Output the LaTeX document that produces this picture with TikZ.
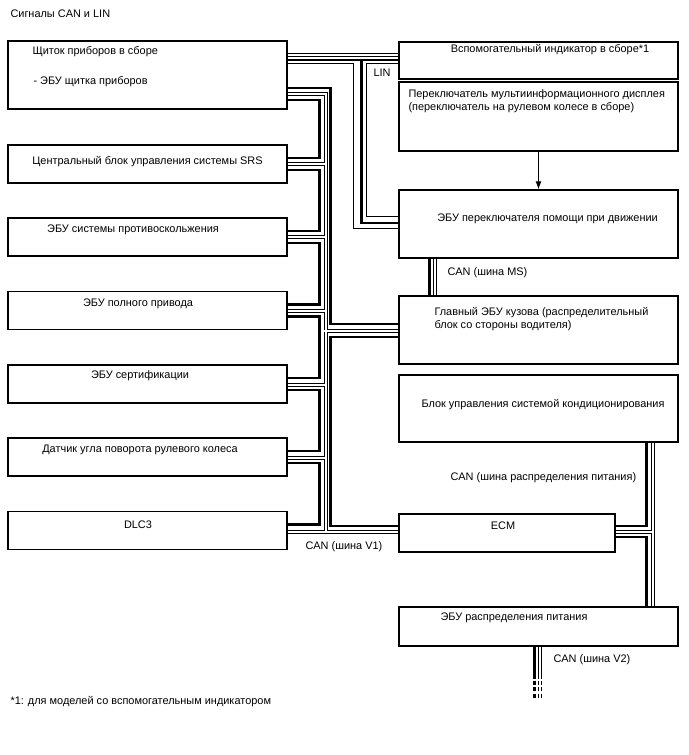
\documentclass[tikz,border=0pt]{standalone}
\usepackage{fontspec}
\setmainfont{Liberation Sans}
\usetikzlibrary{calc,arrows.meta}

\tikzset{every picture/.style={line width=0.75pt}}
\tikzset{
  every node/.style={font=\fontsize{8.2}{9.75}\selectfont, inner sep=0pt},
  ecubox/.style={draw, line width=0.9pt, minimum width=209.25pt},
  canwire/.style={line width=2.2pt},
  linwire/.style={line width=0.75pt},
}

\begin{document}
\begin{tikzpicture}[x=0.75pt,y=0.75pt,yscale=-1,xscale=1]
\useasboundingbox (0,0) rectangle (688,755);

%Boxes, left column
\draw (147.5,75) node [ecubox, minimum height=51pt] (cluster) {};
\draw (147.5,164) node [ecubox, minimum height=28.5pt] (srs) {};
\draw (147.5,237) node [ecubox, minimum height=28.5pt] (abs) {};
\draw (147.5,310.5) node [ecubox, minimum height=28.5pt] (awd) {};
\draw (147.5,384) node [ecubox, minimum height=28.5pt] (cert) {};
\draw (147.5,457) node [ecubox, minimum height=28.5pt] (steer) {};
\draw (147.5,530.5) node [ecubox, minimum height=28.5pt] (dlc) {};
%Boxes, right column
\draw (538.5,60.5) node [ecubox, minimum height=27.75pt] (aux) {};
\draw (538.5,116.5) node [ecubox, minimum height=51.75pt] (mid) {};
\draw (538.5,224) node [ecubox, minimum height=51pt] (dsa) {};
\draw (538.5,330) node [ecubox, minimum height=51pt] (body) {};
\draw (538.5,408.5) node [ecubox, minimum height=50.25pt] (ac) {};
\draw (507,533) node [ecubox, minimum height=28.5pt, minimum width=162pt] (ecm) {};
\draw (538.5,626.5) node [ecubox, minimum height=29.25pt] (pd) {};

%Arrow switch -> ECU
\draw [-{Latex[length=6pt,width=4.5pt]}] (mid.south) -- (dsa.north);

%LIN
\draw [canwire] ($(cluster.east)+(0,-15)$) -- ($(aux.west)+(0,-0.5)$);
\draw [canwire] ($(aux.west)+(-37,-0.5)$) |- ($(dsa.west)+(0,-1)$);
\draw [linwire] ($(cluster.east)+(0,-11)$) -| ($(dsa.west)+(-45,5)$) -- ($(dsa.west)+(0,5)$);
\draw [linwire] ($(aux.west)+(0,3.5)$) -| ($(dsa.west)+(-32,-7)$) -- ($(dsa.west)+(0,-7)$);

%CAN V1, thick wire
\draw [canwire] ($(cluster.east)+(0,25)$) -- ++(32,0) |- ($(srs.east)+(0,-6)$);
\draw [canwire] ($(srs.east)+(0,6)$) -- ++(32,0) |- ($(abs.east)+(0,-6)$);
\draw [canwire] ($(abs.east)+(0,6)$) -- ++(32,0) |- ($(awd.east)+(0,-6)$);
\draw [canwire] ($(awd.east)+(0,6)$) -- ++(32,0) |- ($(cert.east)+(0,-6)$);
\draw [canwire] ($(cert.east)+(0,6)$) -- ++(32,0) |- ($(steer.east)+(0,-6)$);
\draw [canwire] ($(steer.east)+(0,6)$) -- ++(32,0) |- ($(dlc.east)+(0,-6)$);
\draw [canwire] ($(cluster.east)+(0,13)$) -| ($(body.west)+(-68,-6)$) -- ($(body.west)+(0,-6)$);
\draw [canwire] ($(body.west)+(0,7)$) -| ($(ecm.west)+(-68,-7)$) -- ($(ecm.west)+(0,-7)$);
%CAN MS, thick wire
\draw [canwire] ($(dsa.south west)+(31,0)$) -- ($(body.north west)+(31,0)$);
%CAN power distribution, thick wire
\draw [canwire] ($(ac.south east)+(-32,0)$) |- ($(ecm.east)+(0,-7)$);
\draw [canwire] ($(ecm.east)+(0,4)$) -| ($(pd.north east)+(-32,0)$);
%CAN V2, thick wire
\draw [canwire] ($(pd.south west)+(136,0)$) -- ++(0,32);
\draw [canwire, dash pattern=on 3pt off 2pt] ($(pd.south west)+(136,34)$) -- ++(0,17);

%hollow wires (black pass, then white pass)
\foreach \col/\wd in {black/3pt, white/1.5pt}{
  \draw [\col, line width=\wd] ($(cluster.east)+(0,-19.5)$) -- ($(aux.west)+(0,-5)$);
  \draw [\col, line width=\wd] ($(cluster.east)+(0,19)$) -| ($(dlc.east)+(38,1.5)$);
  \draw [\col, line width=\wd] ($(dlc.east)+(0,1.5)$) -- ($(ecm.west)+(0,-1)$);
  \draw [\col, line width=\wd] ($(srs.east)+(0,0.5)$) -- ++(38,0);
  \draw [\col, line width=\wd] ($(abs.east)+(0,0.5)$) -- ++(38,0);
  \draw [\col, line width=\wd] ($(awd.east)+(0,0.5)$) -- ++(38,0);
  \draw [\col, line width=\wd] ($(cert.east)+(0,0.5)$) -- ++(38,0);
  \draw [\col, line width=\wd] ($(steer.east)+(0,0.5)$) -- ++(38,0);
  \draw [\col, line width=\wd] ($(body.west)+(0,1)$) -- ++(-74,0);
  \draw [\col, line width=\wd] ($(dsa.south west)+(37,0)$) -- ($(body.north west)+(37,0)$);
  \draw [\col, line width=\wd] ($(ac.south east)+(-26,0)$) -- ($(pd.north east)+(-26,0)$);
  \draw [\col, line width=\wd] ($(ecm.east)+(0,-1)$) -- ++(37,0);
  \draw [\col, line width=\wd] ($(pd.south west)+(142,0)$) -- ++(0,32);
  \draw [\col, line width=\wd, dash pattern=on 3pt off 2pt] ($(pd.south west)+(142,34)$) -- ++(0,17);
}

% Text Node
\draw (10,14) node (title) [anchor=west] {Сигналы CAN и LIN};
% Text Node
\draw (32,52) node (t-cluster) [anchor=west] {Щиток приборов в сборе};
% Text Node
\draw (33,82) node (t-cluster-ecu) [anchor=west] {- ЭБУ щитка приборов};
% Text Node
\draw (147.5,162) node (t-srs) {Центральный блок управления системы SRS};
% Text Node
\draw (133,229.5) node (t-abs) {ЭБУ системы противоскольжения};
% Text Node
\draw (138,303.5) node (t-awd) {ЭБУ полного привода};
% Text Node
\draw (140,376) node (t-cert) {ЭБУ сертификации};
% Text Node
\draw (140,449.5) node (t-steer) {Датчик угла поворота рулевого колеса};
% Text Node
\draw (138,525) node (t-dlc) {DLC3};
% Text Node
\draw (550,50) node (t-aux) {Вспомогательный индикатор в сборе*1};
% Text Node
\draw (408,101.5) node (t-mid) [anchor=west, align=left] {Переключатель мультиинформационного дисплея\\(переключатель на рулевом колесе в сборе)};
% Text Node
\draw (547.5,219) node (t-dsa) {ЭБУ переключателя помощи при движении};
% Text Node
\draw (434,319) node (t-body) [anchor=west, align=left] {Главный ЭБУ кузова (распределительный\\блок со стороны водителя)};
% Text Node
\draw (543,405) node (t-ac) {Блок управления системой кондиционирования};
% Text Node
\draw (503,526) node (t-ecm) {ECM};
% Text Node
\draw (514,618) node (t-pd) {ЭБУ распределения питания};
% Text Node
\draw (382,73) node (l-lin) {LIN};
% Text Node
\draw (447,273) node (l-ms) [anchor=west] {CAN (шина MS)};
% Text Node
\draw (450,478) node (l-pwr) [anchor=west] {CAN (шина распределения питания)};
% Text Node
\draw (305,547) node (l-v1) [anchor=west] {CAN (шина V1)};
% Text Node
\draw (553,660) node (l-v2) [anchor=west] {CAN (шина V2)};
% Text Node
\draw (10,702) node (note) [anchor=west] {*1: для моделей со вспомогательным индикатором};

\end{tikzpicture}
\end{document}
